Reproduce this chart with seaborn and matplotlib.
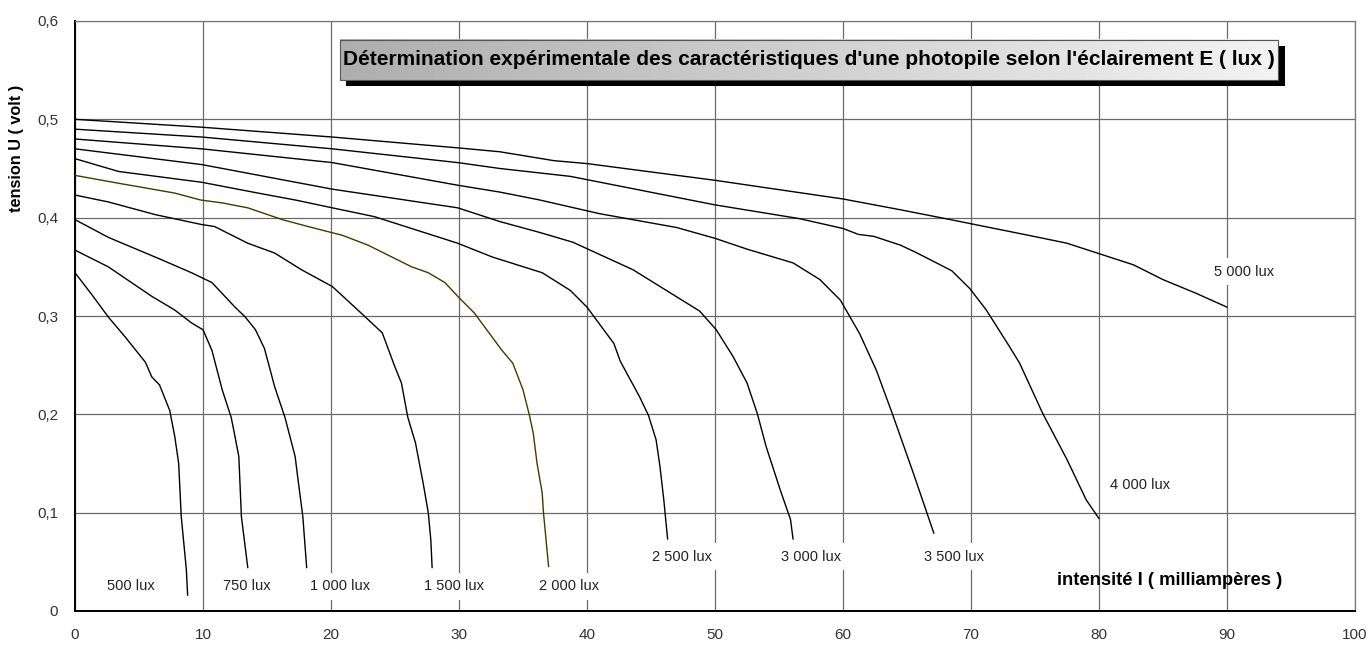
import numpy as np
import pandas as pd
import matplotlib
matplotlib.use("Agg")
import matplotlib.pyplot as plt
from matplotlib.patches import Rectangle
import seaborn as sns

# ---------------- data (I in mA, U in volt) ----------------
i_500 = [0, 1.3, 2.6, 3.9, 5.5, 6.0, 6.6, 7.4, 7.8, 8.1, 8.3, 8.7, 8.8]
u_500 = [0.344, 0.322, 0.299, 0.279, 0.253, 0.238, 0.230, 0.204, 0.177, 0.150, 0.096, 0.042, 0.016]

i_750 = [0, 2.6, 6.0, 7.8, 9.1, 10.0, 10.7, 11.5, 12.2, 12.4, 12.8, 13.0, 13.5]
u_750 = [0.367, 0.350, 0.320, 0.306, 0.293, 0.286, 0.265, 0.225, 0.197, 0.184, 0.157, 0.096, 0.044]

i_1000 = [0, 2.6, 6.8, 9.1, 10.7, 12.5, 13.3, 14.1, 14.8, 15.6, 16.4, 17.2, 17.4, 17.8, 18.1]
u_1000 = [0.398, 0.380, 0.357, 0.344, 0.334, 0.309, 0.299, 0.286, 0.267, 0.228, 0.197, 0.157, 0.136, 0.096, 0.044]

i_1500 = [0, 2.6, 6.3, 9.9, 10.9, 13.5, 15.6, 17.7, 20.1, 22.1, 24.0, 25.0, 25.5, 26.0, 26.6, 27.2, 27.6, 27.8, 27.9]
u_1500 = [0.423, 0.416, 0.403, 0.393, 0.391, 0.374, 0.364, 0.347, 0.330, 0.306, 0.283, 0.248, 0.232, 0.197, 0.171, 0.130, 0.100, 0.072, 0.044]

i_2000 = [0, 3.4, 7.8, 9.8, 11.5, 13.5, 16.2, 18.2, 20.9, 22.9, 26.3, 27.6, 28.9, 29.9, 31.2, 33.3, 34.2, 35.0, 35.5, 35.8, 36.1, 36.5, 36.6, 37.0]
u_2000 = [0.443, 0.435, 0.425, 0.418, 0.415, 0.410, 0.398, 0.391, 0.382, 0.372, 0.350, 0.344, 0.334, 0.320, 0.303, 0.266, 0.252, 0.225, 0.199, 0.181, 0.150, 0.120, 0.100, 0.045]

i_2500 = [0, 3.4, 9.9, 14.3, 17.2, 20.1, 23.4, 29.9, 32.6, 36.5, 38.7, 40.0, 42.1, 42.6, 44.1, 44.8, 45.4, 45.7, 46.0, 46.3]
u_2500 = [0.460, 0.447, 0.436, 0.425, 0.418, 0.410, 0.401, 0.374, 0.360, 0.344, 0.326, 0.309, 0.272, 0.254, 0.218, 0.199, 0.174, 0.147, 0.113, 0.073]

i_3000 = [0, 9.9, 20.1, 29.9, 33.2, 36.3, 38.9, 43.6, 48.8, 50.1, 51.4, 52.5, 53.3, 54.0, 55.1, 55.9, 56.1]
u_3000 = [0.470, 0.454, 0.429, 0.410, 0.396, 0.385, 0.375, 0.347, 0.305, 0.286, 0.259, 0.232, 0.201, 0.167, 0.123, 0.093, 0.073]

i_3500 = [0, 9.9, 20.1, 29.9, 33.2, 36.3, 41.0, 47.0, 50.0, 52.5, 56.1, 58.2, 59.8, 61.3, 62.6, 63.9, 65.5, 67.1]
u_3500 = [0.480, 0.470, 0.456, 0.433, 0.426, 0.418, 0.404, 0.390, 0.379, 0.368, 0.354, 0.337, 0.316, 0.282, 0.245, 0.199, 0.140, 0.079]

i_4000 = [0, 9.9, 20.1, 29.9, 33.2, 38.7, 50.0, 56.6, 60.0, 61.2, 62.4, 64.5, 65.8, 68.5, 69.9, 71.2, 73.0, 73.8, 75.6, 77.5, 79.0, 80.0]
u_4000 = [0.490, 0.482, 0.470, 0.456, 0.450, 0.442, 0.413, 0.399, 0.389, 0.383, 0.381, 0.372, 0.364, 0.346, 0.328, 0.306, 0.269, 0.252, 0.201, 0.154, 0.113, 0.094]

i_5000 = [0, 5.0, 9.9, 20.1, 29.9, 33.2, 37.4, 40.0, 50.0, 60.0, 64.5, 68.4, 74.9, 77.5, 80.1, 82.7, 85.0, 87.6, 90.0]
u_5000 = [0.500, 0.496, 0.492, 0.482, 0.471, 0.467, 0.458, 0.455, 0.438, 0.419, 0.408, 0.398, 0.381, 0.374, 0.363, 0.352, 0.337, 0.323, 0.309]

series_names = ["500 lux", "750 lux", "1 000 lux", "1 500 lux", "2 000 lux",
                "2 500 lux", "3 000 lux", "3 500 lux", "4 000 lux", "5 000 lux"]
series_i = [i_500, i_750, i_1000, i_1500, i_2000, i_2500, i_3000, i_3500, i_4000, i_5000]
series_u = [u_500, u_750, u_1000, u_1500, u_2000, u_2500, u_3000, u_3500, u_4000, u_5000]

x_ticks = list(range(0, 101, 10))
x_tick_labels = [str(v) for v in x_ticks]
y_ticks = [0, 0.1, 0.2, 0.3, 0.4, 0.5, 0.6]
y_tick_labels = ["0", "0,1", "0,2", "0,3", "0,4", "0,5", "0,6"]

title_text = "Détermination expérimentale des caractéristiques d'une photopile selon l'éclairement E ( lux )"
xlabel_text = "intensité I ( milliampères )"
ylabel_text = "tension U ( volt )"

# label placement (data coords)
label_pos = {
    "500 lux": (4.36, 0.025), "750 lux": (13.4, 0.025), "1 000 lux": (20.7, 0.025),
    "1 500 lux": (29.6, 0.025), "2 000 lux": (38.6, 0.025), "2 500 lux": (47.4, 0.055),
    "3 000 lux": (57.5, 0.055), "3 500 lux": (68.7, 0.055), "4 000 lux": (83.2, 0.128),
    "5 000 lux": (91.3, 0.345),
}

# ---------------- build table ----------------
rows = []
for name, xs, ys in zip(series_names, series_i, series_u):
    for k, (a, b) in enumerate(zip(xs, ys)):
        rows.append({"E": name, "I": a, "U": b, "order": k})
df = pd.DataFrame(rows)

palette = {n: "#000000" for n in series_names}
palette["2 000 lux"] = "#3d3d00"

# ---------------- figure ----------------
sns.set_style("white")
plt.rcParams["font.family"] = ["Liberation Sans", "DejaVu Sans"]

W, H = 1369, 646
fig = plt.figure(figsize=(W / 100, H / 100), dpi=100)
fig.patch.set_facecolor("white")
ax = fig.add_axes([75 / W, 35 / H, 1280 / W, 590 / H])

sns.lineplot(data=df, x="I", y="U", hue="E", palette=palette, estimator=None,
             sort=False, legend=False, linewidth=1.0, ax=ax, zorder=3)

ax.set_xlim(0, 100)
ax.set_ylim(0, 0.6)
ax.set_xticks(x_ticks)
ax.set_xticklabels(x_tick_labels)
ax.set_yticks(y_ticks)
ax.set_yticklabels(y_tick_labels)
ax.set_xlabel("")
ax.set_ylabel("")
ax.grid(True, color="#6a6a6a", linewidth=0.9)
ax.set_axisbelow(True)
ax.tick_params(axis="both", direction="out", length=5, width=1, color="black",
               labelsize=11, labelcolor="#333333")
ax.tick_params(axis="x", pad=7)
ax.tick_params(axis="y", pad=7)
for s in ["left", "bottom"]:
    ax.spines[s].set_color("black")
    ax.spines[s].set_linewidth(1.4)
for s in ["top", "right"]:
    ax.spines[s].set_color("#777777")
    ax.spines[s].set_linewidth(0.9)

# curve labels
for name, (lx, ly) in label_pos.items():
    ax.text(lx, ly, name, ha="center", va="center", fontsize=10.5, color="#222222",
            zorder=4, bbox=dict(boxstyle="square,pad=0.45", fc="white", ec="none"))

# title box with shadow and gradient
bx0, bx1, by0, by1 = 20.7, 94.0, 0.540, 0.5807
ax.add_patch(Rectangle((bx0 + 0.5, by0 - 0.006), bx1 - bx0, by1 - by0,
                       facecolor="black", edgecolor="none", zorder=5))
grad = np.linspace(0.68, 0.95, 256).reshape(1, -1)
ax.imshow(grad, extent=[bx0, bx1, by0, by1], aspect="auto", cmap="gray",
          vmin=0, vmax=1, zorder=6, interpolation="bilinear")
ax.add_patch(Rectangle((bx0, by0), bx1 - bx0, by1 - by0, facecolor="none",
                       edgecolor="#555555", linewidth=0.8, zorder=7))
ax.set_xlim(0, 100)
ax.set_ylim(0, 0.6)

t_title = ax.text((bx0 + bx1) / 2, (by0 + by1) / 2 + 0.001, title_text, ha="center",
                  va="center", fontsize=12, fontweight="bold", color="black", zorder=8)
t_x = ax.text(85.5, 0.0315, xlabel_text, ha="center", va="center", fontsize=10,
              fontweight="bold", color="black", zorder=4)
t_y = fig.text(17 / W, 1 - 148.5 / H, ylabel_text, rotation=90, ha="center",
               va="center", fontsize=10, fontweight="bold", color="black")

# fit text widths to the reference
fig.canvas.draw()
r = fig.canvas.get_renderer()
for t, target, vertical in [(t_title, 925, False), (t_x, 226, False), (t_y, 127, True)]:
    bb = t.get_window_extent(r)
    cur = bb.height if vertical else bb.width
    t.set_fontsize(t.get_fontsize() * target / cur)

fig.savefig("out.png", dpi=100, facecolor="white")
